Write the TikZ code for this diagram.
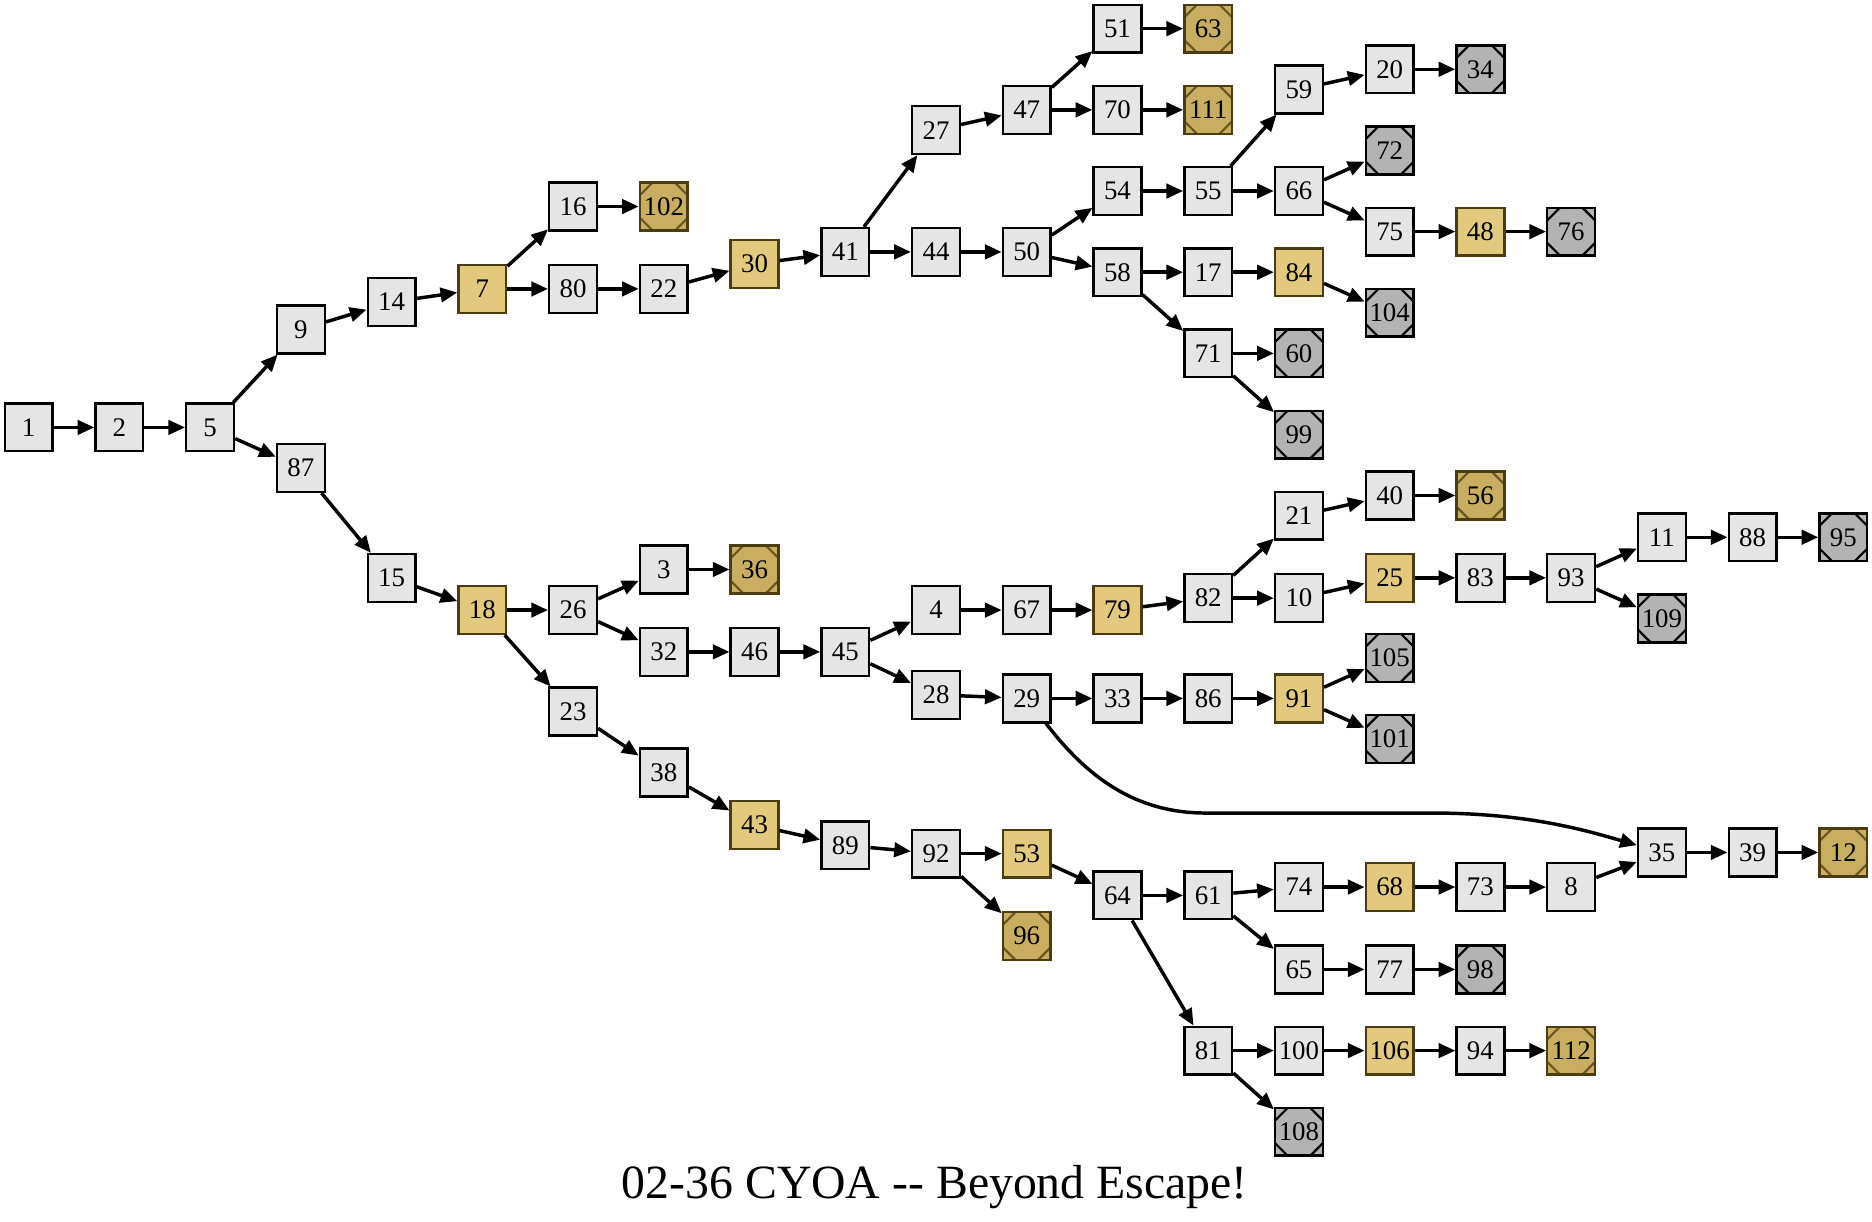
\documentclass[tikz,border=0pt]{standalone}
\usepackage{fontspec}
\setmainfont{Liberation Serif}
\usetikzlibrary{arrows.meta}
\definecolor{plainfill}{HTML}{E5E5E5}
\definecolor{yelfill}{HTML}{E2C97E}
\definecolor{yeldraw}{HTML}{4A3D12}
\definecolor{goldfill}{HTML}{C9AD60}
\definecolor{golddraw}{HTML}{4A3D12}
\definecolor{goldline}{HTML}{6B5520}
\definecolor{grayfill}{HTML}{B3B3B3}
\tikzset{
  base/.style={rectangle, minimum size=40pt, inner sep=0pt, line width=2pt,
    font=\fontsize{22.5}{22.5}\selectfont},
  plain/.style={base, fill=plainfill, draw=black},
  yel/.style={base, fill=yelfill, draw=yeldraw},
  corners/.style={path picture={
    \draw[#1, line width=1.8pt]
      ([xshift=10.5pt]path picture bounding box.north west) -- ([yshift=-10.5pt]path picture bounding box.north west)
      ([xshift=-10.5pt]path picture bounding box.north east) -- ([yshift=-10.5pt]path picture bounding box.north east)
      ([xshift=10.5pt]path picture bounding box.south west) -- ([yshift=10.5pt]path picture bounding box.south west)
      ([xshift=-10.5pt]path picture bounding box.south east) -- ([yshift=10.5pt]path picture bounding box.south east);
  }},
  goldend/.style={base, fill=goldfill, draw=golddraw, corners=goldline},
  grayend/.style={base, fill=grayfill, draw=black, corners=black},
  edge/.style={-{Triangle[length=14pt,width=12pt]}, line width=2.9pt},
  title/.style={font=\fontsize{40}{40}\selectfont, inner sep=0pt}
}
\newcommand\mynode[4]{\node[#2] (n#1) at (#3,#4) {\makebox[0pt][c]{#1}};}
\begin{document}
\begin{tikzpicture}[x=1pt,y=-1pt]
\useasboundingbox (0,0) rectangle (1568,1023);
% nodes
\mynode{1}{plain}{24}{358}
\mynode{2}{plain}{100}{358}
\mynode{5}{plain}{176}{358}
\mynode{9}{plain}{252}{276}
\mynode{87}{plain}{252}{392}
\mynode{14}{plain}{328}{253}
\mynode{15}{plain}{328}{484}
\mynode{7}{yel}{404}{242}
\mynode{18}{yel}{404}{511}
\mynode{16}{plain}{480}{173}
\mynode{80}{plain}{480}{242}
\mynode{26}{plain}{480}{511}
\mynode{23}{plain}{480}{596}
\mynode{102}{goldend}{556}{173}
\mynode{22}{plain}{556}{242}
\mynode{3}{plain}{556}{477}
\mynode{32}{plain}{556}{546}
\mynode{38}{plain}{556}{647}
\mynode{30}{yel}{632}{221}
\mynode{36}{goldend}{632}{477}
\mynode{46}{plain}{632}{546}
\mynode{43}{yel}{632}{691}
\mynode{41}{plain}{708}{211}
\mynode{45}{plain}{708}{546}
\mynode{89}{plain}{708}{708}
\mynode{27}{plain}{784}{109}
\mynode{44}{plain}{784}{211}
\mynode{4}{plain}{784}{511}
\mynode{28}{plain}{784}{582}
\mynode{92}{plain}{784}{715}
\mynode{47}{plain}{860}{92}
\mynode{50}{plain}{860}{211}
\mynode{67}{plain}{860}{511}
\mynode{29}{plain}{860}{585}
\mynode{53}{yel}{860}{715}
\mynode{96}{goldend}{860}{784}
\mynode{51}{plain}{936}{24}
\mynode{70}{plain}{936}{92}
\mynode{54}{plain}{936}{160}
\mynode{58}{plain}{936}{228}
\mynode{79}{yel}{936}{511}
\mynode{33}{plain}{936}{585}
\mynode{64}{plain}{936}{750}
\mynode{63}{goldend}{1012}{24}
\mynode{111}{goldend}{1012}{92}
\mynode{55}{plain}{1012}{160}
\mynode{17}{plain}{1012}{228}
\mynode{71}{plain}{1012}{296}
\mynode{82}{plain}{1012}{501}
\mynode{86}{plain}{1012}{585}
\mynode{61}{plain}{1012}{750}
\mynode{81}{plain}{1012}{880}
\mynode{59}{plain}{1088}{75}
\mynode{66}{plain}{1088}{160}
\mynode{84}{yel}{1088}{228}
\mynode{60}{grayend}{1088}{296}
\mynode{99}{grayend}{1088}{364}
\mynode{21}{plain}{1088}{432}
\mynode{10}{plain}{1088}{501}
\mynode{91}{yel}{1088}{585}
\mynode{74}{plain}{1088}{743}
\mynode{65}{plain}{1088}{812}
\mynode{100}{plain}{1088}{880}
\mynode{108}{grayend}{1088}{948}
\mynode{20}{plain}{1164}{58}
\mynode{72}{grayend}{1164}{126}
\mynode{75}{plain}{1164}{194}
\mynode{104}{grayend}{1164}{262}
\mynode{40}{plain}{1164}{415}
\mynode{25}{yel}{1164}{484}
\mynode{105}{grayend}{1164}{551}
\mynode{101}{grayend}{1164}{619}
\mynode{68}{yel}{1164}{743}
\mynode{77}{plain}{1164}{812}
\mynode{106}{yel}{1164}{880}
\mynode{34}{grayend}{1240}{58}
\mynode{48}{yel}{1240}{194}
\mynode{56}{goldend}{1240}{415}
\mynode{83}{plain}{1240}{484}
\mynode{73}{plain}{1240}{743}
\mynode{98}{grayend}{1240}{812}
\mynode{94}{plain}{1240}{880}
\mynode{76}{grayend}{1316}{194}
\mynode{93}{plain}{1316}{484}
\mynode{8}{plain}{1316}{743}
\mynode{112}{goldend}{1316}{880}
\mynode{11}{plain}{1392}{450}
\mynode{109}{grayend}{1392}{518}
\mynode{35}{plain}{1392}{714}
\mynode{88}{plain}{1468}{450}
\mynode{39}{plain}{1468}{714}
\mynode{95}{grayend}{1544}{450}
\mynode{12}{goldend}{1544}{714}
\node[title] (title) at (783,994) {02-36 CYOA -{}- Beyond Escape!};
% edges
\foreach \a/\b in {1/2,2/5,5/9,5/87,9/14,14/7,7/16,7/80,16/102,80/22,22/30,30/41,
  41/27,41/44,27/47,47/51,47/70,51/63,70/111,44/50,50/54,50/58,54/55,55/59,55/66,
  59/20,20/34,66/72,66/75,75/48,48/76,58/17,58/71,17/84,84/104,71/60,71/99,
  87/15,15/18,18/26,18/23,26/3,26/32,3/36,32/46,46/45,45/4,45/28,4/67,67/79,79/82,
  82/21,82/10,21/40,40/56,10/25,25/83,83/93,93/11,93/109,11/88,88/95,28/29,29/33,
  33/86,86/91,91/105,91/101,23/38,38/43,43/89,89/92,92/53,92/96,53/64,64/61,64/81,
  61/74,61/65,74/68,68/73,73/8,8/35,35/39,39/12,65/77,77/98,81/100,81/108,
  100/106,106/94,94/112}
  \draw[edge] (n\a) -- (n\b);
\draw[edge] (n29) .. controls (910,650) and (950,681) .. (1010,681) -- (1200,681)
  .. controls (1280,681) and (1330,696) .. (n35);
\end{tikzpicture}
\end{document}
